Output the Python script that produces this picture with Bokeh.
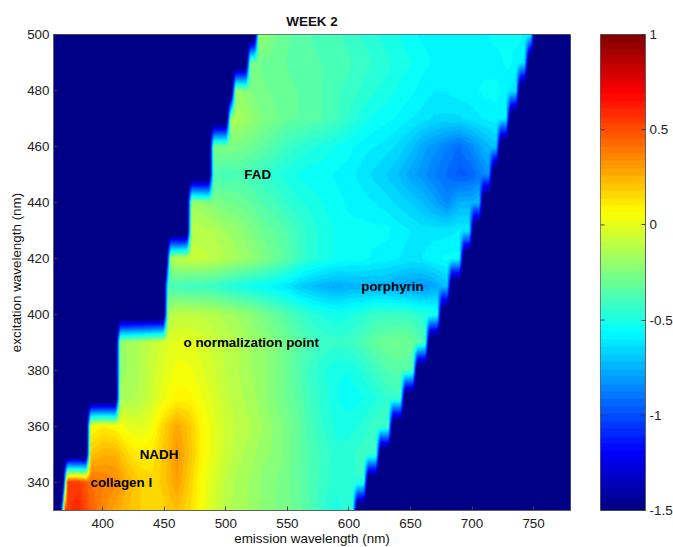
import numpy as np
from bokeh.plotting import figure
from bokeh.layouts import row
from bokeh.models import FixedTicker, LinearColorMapper, Range1d
from bokeh.embed import file_html
from bokeh.resources import INLINE

FONT = "Liberation Sans"
SIZE = "13.4px"

excitation = [330, 340, 350, 360, 370, 380, 390, 400, 410, 420, 430, 440, 450, 460, 470, 480, 490, 500]
# first and last emission wavelength with signal, per excitation row
left_edge = [369, 371, 390, 390, 414, 414, 414, 453, 453, 455, 472, 472, 490, 490, 504, 508, 520, 527]
right_edge = [603, 612, 622, 632, 642, 652, 662, 672, 680, 690, 698, 706, 714, 720, 728, 736, 743, 748]
# first emission of each value list below; the lists advance in 10 nm
row_start = [370, 370, 390, 390, 410, 410, 410, 450, 450, 450, 470, 470, 490, 490, 500, 500, 520, 520]

ex330 = [.55, .6, .45, .35, .28, .22, .18, .15, .17, .22, .15, .05, -.05, -.12, -.15, -.18, -.22, -.25, -.28, -.32, -.38, -.45, -.5, -.45, -.45]
ex340 = [.55, .55, .42, .38, .35, .25, .18, .15, .2, .3, .18, .05, -.03, -.1, -.15, -.18, -.22, -.25, -.28, -.33, -.38, -.43, -.47, -.45, -.45, -.45]
ex350 = [.2, .25, .25, .15, .1, .12, .2, .32, .22, .08, 0, -.07, -.12, -.15, -.2, -.22, -.27, -.33, -.38, -.42, -.47, -.47, -.42, -.42, -.42]
ex360 = [.05, .1, .07, 0, -.02, .03, .18, .28, .2, .08, 0, -.06, -.1, -.13, -.17, -.22, -.27, -.33, -.4, -.45, -.5, -.5, -.48, -.42, -.4, -.4]
ex370 = [-.15, -.15, -.12, -.05, .02, .08, .08, .03, -.03, -.08, -.12, -.15, -.2, -.25, -.3, -.35, -.42, -.47, -.52, -.55, -.53, -.5, -.45, -.42, -.42]
ex380 = [-.2, -.17, -.13, -.07, -.01, .04, .03, -.01, -.05, -.1, -.13, -.17, -.2, -.25, -.3, -.37, -.43, -.48, -.52, -.52, -.48, -.42, -.37, -.35, -.37, -.4]
ex390 = [-.2, -.17, -.13, -.08, -.03, 0, 0, -.03, -.07, -.1, -.13, -.17, -.2, -.25, -.3, -.35, -.38, -.42, -.43, -.42, -.38, -.33, -.3, -.28, -.3, -.37, -.4]
ex400 = [-.15, -.1, -.1, -.1, -.12, -.15, -.18, -.22, -.27, -.32, -.37, -.42, -.47, -.5, -.52, -.5, -.47, -.43, -.42, -.42, -.43, -.47, -.5, -.5]
ex410 = [-.38, -.4, -.42, -.42, -.43, -.47, -.5, -.53, -.55, -.58, -.62, -.68, -.72, -.75, -.77, -.75, -.75, -.75, -.75, -.78, -.8, -.82, -.78, -.7]
ex420 = [-.15, -.1, -.08, -.08, -.1, -.13, -.17, -.2, -.25, -.3, -.35, -.42, -.47, -.5, -.53, -.55, -.55, -.57, -.58, -.6, -.62, -.6, -.57, -.55, -.55, -.55]
ex430 = [-.1, -.12, -.13, -.17, -.2, -.25, -.3, -.33, -.37, -.42, -.47, -.5, -.53, -.55, -.55, -.55, -.55, -.58, -.6, -.62, -.62, -.62, -.6, -.6]
ex440 = [-.18, -.2, -.25, -.28, -.3, -.33, -.37, -.4, -.45, -.48, -.5, -.53, -.55, -.57, -.58, -.6, -.62, -.65, -.68, -.72, -.78, -.85, -.75, -.75, -.7]
ex450 = [-.37, -.4, -.38, -.4, -.43, -.47, -.5, -.53, -.55, -.55, -.57, -.58, -.62, -.65, -.68, -.72, -.78, -.82, -.88, -.92, -.97, -.95, -.85, -.8]
ex460 = [-.27, -.25, -.27, -.3, -.33, -.37, -.42, -.45, -.48, -.5, -.53, -.55, -.58, -.6, -.62, -.65, -.7, -.78, -.82, -.88, -.92, -.85, -.75, -.7, -.7]
ex470 = [-.15, -.15, -.2, -.25, -.28, -.32, -.33, -.35, -.37, -.4, -.45, -.5, -.53, -.55, -.57, -.6, -.62, -.65, -.65, -.65, -.62, -.6, -.58, -.6]
ex480 = [-.2, -.2, -.25, -.28, -.3, -.32, -.33, -.35, -.37, -.4, -.42, -.45, -.48, -.5, -.53, -.55, -.58, -.6, -.6, -.58, -.58, -.55, -.55, -.6, -.65]
ex490 = [-.25, -.3, -.32, -.33, -.35, -.36, -.37, -.38, -.4, -.42, -.45, -.47, -.5, -.52, -.55, -.57, -.6, -.6, -.6, -.58, -.58, -.55, -.6, -.65]
ex500 = [-.12, -.2, -.28, -.32, -.35, -.37, -.38, -.4, -.42, -.45, -.47, -.5, -.52, -.55, -.57, -.57, -.58, -.6, -.6, -.57, -.55, -.55, -.55, -.6]
rows = [ex330, ex340, ex350, ex360, ex370, ex380, ex390, ex400, ex410, ex420, ex430, ex440, ex450, ex460, ex470, ex480, ex490, ex500]

x_ticks = [400, 450, 500, 550, 600, 650, 700, 750]
y_ticks = [340, 360, 380, 400, 420, 440, 460, 480, 500]
bar_ticks = [-1.5, -1, -0.5, 0, 0.5, 1]
bar_tick_text = ["-1.5", "-1", "-0.5", "0", "0.5", "1"]
labels = ["FAD", "porphyrin", "o normalization point", "NADH", "collagen I"]
label_em = [515, 610, 465.6, 430, 390]
label_ex = [450, 410, 390, 350, 340]


def jet(n):
    out = []
    for f in (np.arange(n) + 0.5) / n:
        c = [np.clip(min(4 * f - a, -4 * f + 3 + a), 0, 1) for a in (1.5, 0.5, -0.5)]
        out.append("#%02x%02x%02x" % tuple(int(round(255 * v)) for v in c))
    return out


palette = jet(64)
mapper = LinearColorMapper(palette=palette, low=-1.5, high=1)

# shading: the measured rows are blended the way interpolated shading does it;
# emission has no signal outside the edges, where the map reads below its floor
OUTSIDE = -1.75
EDGE_SOFT = 4.0
em_px = np.linspace(360, 780, 517)
ex_px = np.linspace(330, 500, 476)
per_row = []
for i, vals in enumerate(rows):
    em = row_start[i] + 10 * np.arange(len(vals))
    z = np.interp(em_px, em, vals)
    d = np.maximum(np.maximum(left_edge[i] - em_px, em_px - right_edge[i]), 0)
    per_row.append(z + (OUTSIDE - z) * np.minimum(d / EDGE_SOFT, 1))
per_row = np.array(per_row)
idx = np.clip(np.searchsorted(excitation, ex_px, side="right") - 1, 0, len(excitation) - 2)
t = ((ex_px - np.array(excitation)[idx]) / 10)[:, None]
field = per_row[idx] * (1 - t) + per_row[idx + 1] * t

p = figure(frame_width=517, frame_height=476, min_border_left=53, min_border_right=15, min_border_top=34,
           min_border_bottom=35, x_range=Range1d(360, 780), y_range=Range1d(330, 500),
           output_backend="svg", toolbar_location=None, title="WEEK 2",
           x_axis_label="emission wavelength (nm)", y_axis_label="excitation wavelength (nm)")
p.image(image=[field], x=360, y=330, dw=420, dh=170, color_mapper=mapper)
p.text(x=label_em, y=label_ex, text=labels, text_font_size=SIZE, text_font_style="bold",
       text_baseline="middle", text_color="black", text_font={"value": FONT})
p.grid.visible = False
p.title.align = "center"
p.title.text_font = FONT
p.title.text_font_size = SIZE
p.title.text_font_style = "bold"
p.title.text_color = "#111111"
p.title.standoff = 12
p.outline_line_color = "#606060"
p.xaxis.ticker = FixedTicker(ticks=x_ticks)
p.yaxis.ticker = FixedTicker(ticks=y_ticks)
for ax in (p.xaxis[0], p.yaxis[0]):
    ax.major_tick_in = 4
    ax.major_tick_out = 0
    ax.minor_tick_line_color = None
    ax.axis_line_color = "#606060"
    ax.major_tick_line_color = "#404040"
    ax.major_label_text_font = FONT
    ax.major_label_text_font_size = SIZE
    ax.major_label_text_color = "#222222"
    ax.axis_label_text_font = FONT
    ax.axis_label_text_font_size = SIZE
    ax.axis_label_text_font_style = "normal"
    ax.axis_label_text_color = "#111111"
    ax.axis_label_standoff = 0
p.xaxis[0].major_label_standoff = 8
p.yaxis[0].major_label_standoff = 4

bar_field = np.linspace(-1.5, 1, 129)[1::2][:, None]
cb = figure(frame_width=45, frame_height=476, min_border_left=15, min_border_right=28, min_border_top=34,
            min_border_bottom=35, x_range=Range1d(0, 1), y_range=Range1d(-1.5, 1),
            output_backend="svg", toolbar_location=None, y_axis_location="right")
cb.image(image=[bar_field], x=0, y=-1.5, dw=1, dh=2.5, color_mapper=mapper)
cb.segment(x0=[0] * len(bar_ticks), x1=[0.09] * len(bar_ticks), y0=bar_ticks, y1=bar_ticks, line_color="#404040", line_width=1)
cb.grid.visible = False
cb.xaxis.visible = False
cb.outline_line_color = "#606060"
cb.yaxis.ticker = FixedTicker(ticks=bar_ticks)
ax = cb.yaxis[0]
ax.major_tick_in = 4
ax.major_tick_out = 0
ax.minor_tick_line_color = None
ax.axis_line_color = "#606060"
ax.major_tick_line_color = "#404040"
ax.major_label_text_font = FONT
ax.major_label_text_font_size = SIZE
ax.major_label_text_color = "#222222"
ax.major_label_standoff = 4
ax.major_label_overrides = dict(zip(bar_ticks, bar_tick_text))

layout = row(p, cb, spacing=0)
open("out.html", "w").write(file_html(layout, INLINE))
